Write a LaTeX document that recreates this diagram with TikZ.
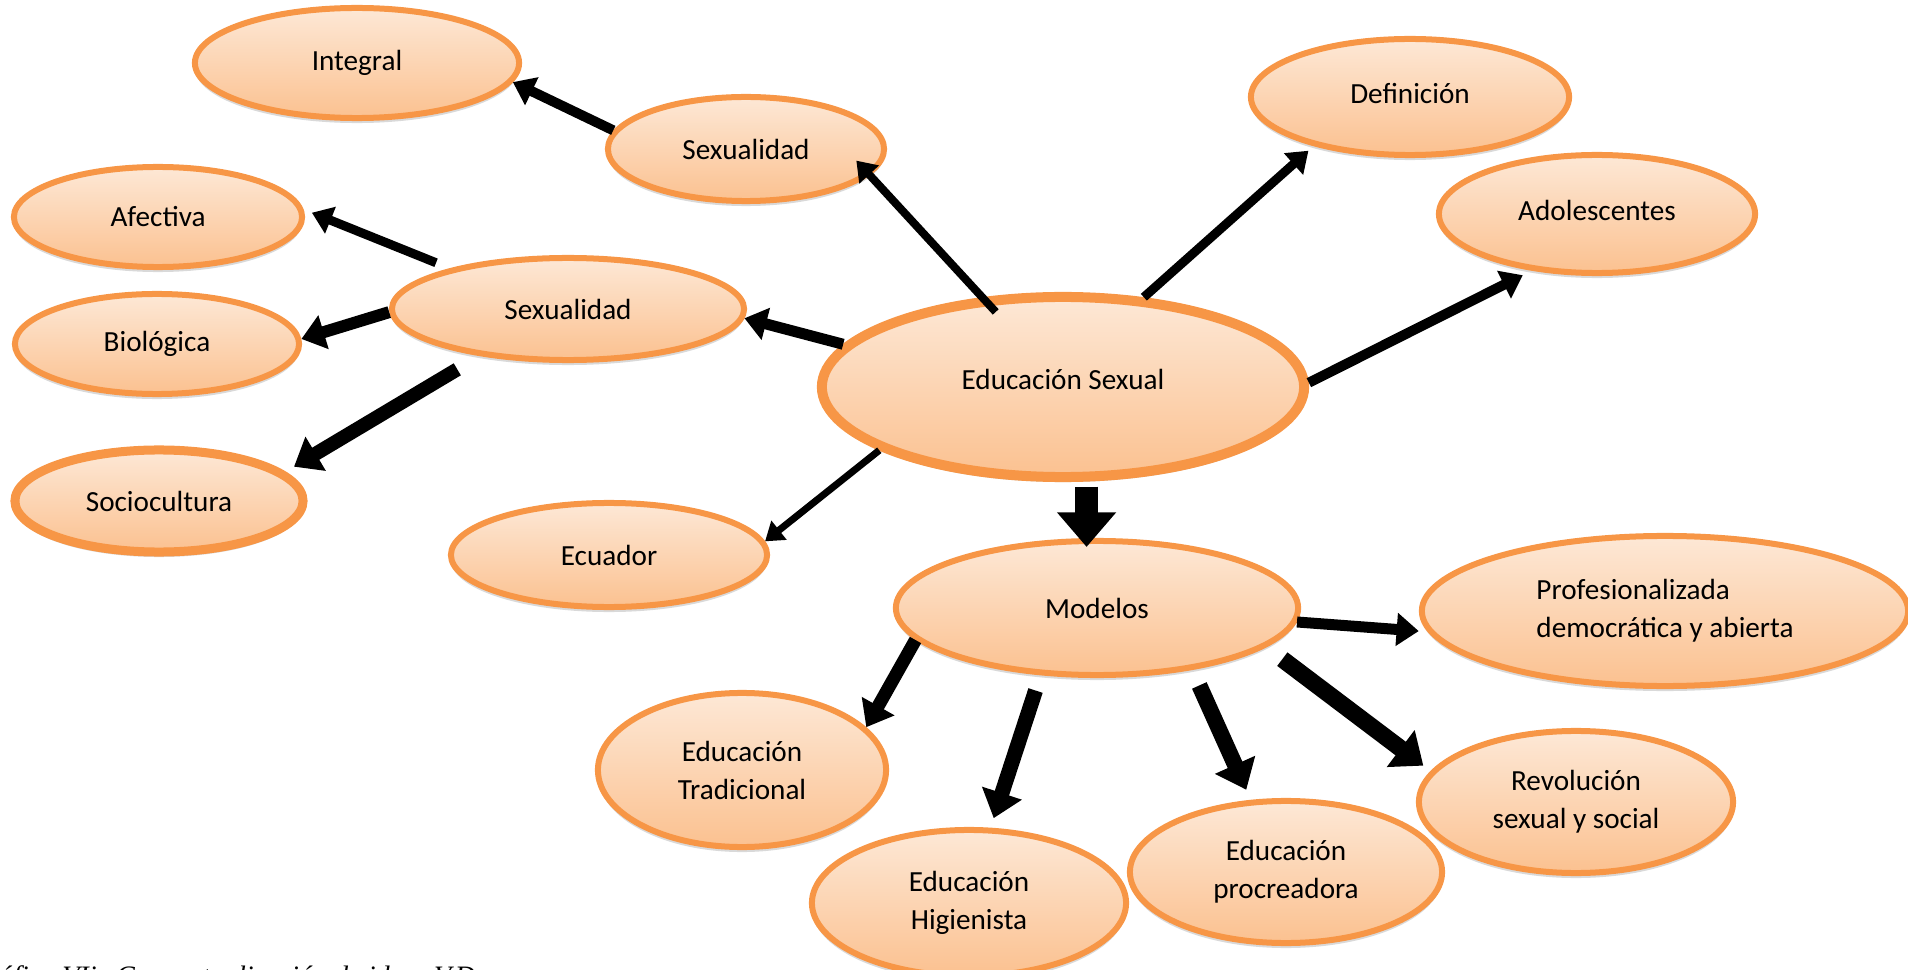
\documentclass[tikz,border=0pt]{standalone}
\usepackage{fontspec}
\setmainfont{Carlito}
\newfontfamily\captfont{Liberation Serif}
\usetikzlibrary{positioning,shapes.geometric,shadows,arrows.meta}
\definecolor{pchtop}{RGB}{253,232,214}
\definecolor{pchbot}{RGB}{251,193,144}
\definecolor{orgline}{RGB}{247,150,70}
\tikzset{bubble/.style={ellipse,draw=orgline,line width=0.06cm,top color=pchtop,bottom color=pchbot,inner sep=0pt,align=center,font=\fontsize{8.3}{10.8}\selectfont,drop shadow={shadow xshift=0pt,shadow yshift=-0.05cm,opacity=0.25,fill=black!60}}}
\tikzset{bigbubble/.style={bubble,line width=0.1cm}}
\tikzset{lnk/.style={line width=#1,-{Triangle[length=3pt 1.05,width=2.5pt 2.1]}}}
\tikzset{capt/.style={inner sep=0pt,font=\captfont\itshape\fontsize{8}{10}\selectfont}}

\begin{document}
\begin{tikzpicture}[x=0.01cm,y=-0.01cm]
  \useasboundingbox (0,0) rectangle (1908,970);
  \node[bigbubble,minimum width=4.82cm,minimum height=1.80cm] (es) at (1063,387) {\raisebox{0.16cm}{Educación Sexual}};
  \node[bubble,minimum width=2.76cm,minimum height=1.04cm] (sx1) at (746,149) {Sexualidad};
  \node[bubble,minimum width=3.24cm,minimum height=1.10cm] (integ) at (357,63) {Integral};
  \node[bubble,minimum width=3.18cm,minimum height=1.16cm] (defi) at (1410,97) {\raisebox{0.08cm}{Definición}};
  \node[bubble,minimum width=3.16cm,minimum height=1.18cm] (adol) at (1597,214) {\raisebox{0.08cm}{Adolescentes}};
  \node[bubble,minimum width=3.52cm,minimum height=1.02cm] (sx2) at (568,309) {Sexualidad};
  \node[bubble,minimum width=2.88cm,minimum height=1.00cm] (afec) at (158,217) {Afectiva};
  \node[bubble,minimum width=2.84cm,minimum height=1.00cm] (bio) at (157,344) {Biológica};
  \node[bigbubble,line width=0.09cm,minimum width=2.88cm,minimum height=1.02cm] (socio) at (159,501) {Sociocultura};
  \node[bubble,minimum width=3.16cm,minimum height=1.04cm] (ecu) at (609,555) {Ecuador};
  \node[bubble,minimum width=4.02cm,minimum height=1.34cm] (mod) at (1097,608) {Modelos};
  \node[bubble,minimum width=4.86cm,minimum height=1.50cm,align=left] (prof) at (1665,611) {Profesionalizada\\democrática y abierta};
  \node[bubble,minimum width=2.88cm,minimum height=1.54cm] (trad) at (742,770) {Educación\\Tradicional};
  \node[bubble,minimum width=3.14cm,minimum height=1.46cm] (hig) at (969,903) {Educación\\Higienista};
  \node[bubble,minimum width=3.12cm,minimum height=1.42cm] (proc) at (1286,872) {Educación\\procreadora};
  \node[bubble,minimum width=3.14cm,minimum height=1.42cm] (rev) at (1576,802) {Revolución\\sexual y social};
  \node[capt,anchor=base west] (cap) at (-33,985) {Gráfico VIix Conceptualización de ideas V.D.};

  \draw[lnk=0.08cm,shorten <=-0.2cm,shorten >=-0.2cm] (es.132) -- (sx1.-12);
  \draw[lnk=0.09cm,shorten >=0.07cm] (es.48) -- (defi.207);
  \draw[lnk=0.1cm,shorten >=0.1cm] (es.1) -- (adol.221);
  \draw[lnk=0.11cm] (es.169) -- (sx2.-3);
  \draw[lnk=0.07cm] (es.199) -- (ecu.5);
  \draw[lnk=0.23cm,shorten <=0.05cm,shorten >=-0.09cm] (es.-76) -- (es.-76 |- mod.north);
  \draw[lnk=0.1cm] (sx1.172) -- (integ.-7);
  \draw[lnk=0.09cm,shorten <=0.15cm,shorten >=0.09cm] (sx2.161) -- (afec.3);
  \draw[lnk=0.12cm] (sx2.181) -- (bio.2.5);
  \draw[lnk=0.14cm,shorten <=0.26cm,shorten >=0.1cm] (sx2.208) -- (socio.13);
  \draw[lnk=0.11cm,shorten >=0.09cm] (mod.-4) -- (prof.185.5);
  \draw[lnk=0.13cm] (mod.190) -- (trad.19.5);
  \draw[lnk=0.15cm,shorten <=0.16cm,shorten >=0.1cm] (mod.230) -- (hig.74);
  \draw[lnk=0.16cm,shorten <=0.17cm,shorten >=0.11cm] (mod.-33) -- (proc.116);
  \draw[lnk=0.17cm,shorten <=0.2cm,shorten >=0.09cm] (mod.-13.5) -- (rev.168.5);
\end{tikzpicture}
\end{document}
